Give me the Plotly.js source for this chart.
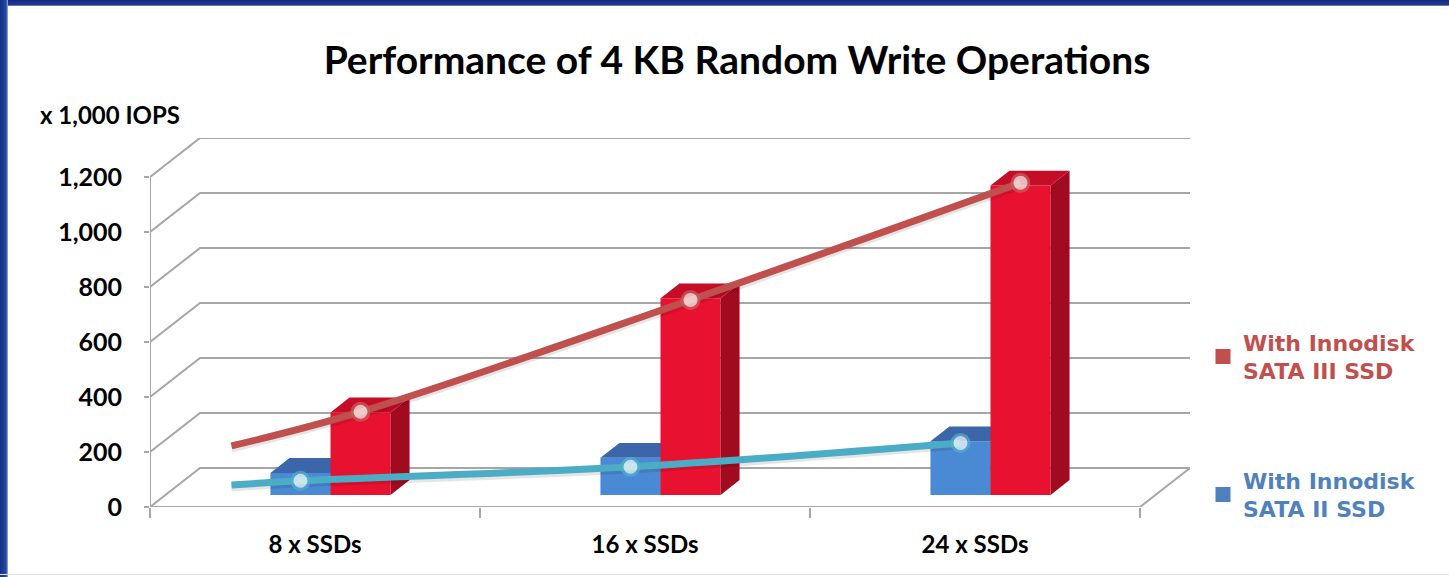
<!DOCTYPE html>
<html>
<head>
<meta charset="utf-8">
<script src="https://cdn.plot.ly/plotly-3.0.1.min.js"></script>
<style>
  html, body { margin: 0; padding: 0; background: #ffffff; }
  #wrap { position: relative; width: 1449px; height: 577px; overflow: hidden; background: #ffffff; }
  #chart { position: absolute; left: 0; top: 0; width: 1449px; height: 577px; }
  .frame-top { position: absolute; left: 0; top: 0; width: 1449px; height: 6px;
    background: linear-gradient(#14287a, #1f3a96 80%, #8fa0c8); pointer-events: none; }
  .frame-left { position: absolute; left: 0; top: 0; width: 8px; height: 577px;
    background: linear-gradient(90deg, #15307f, #2248a8 75%, #9db0d8); pointer-events: none; }
  .frame-bottom { position: absolute; left: 0; top: 574px; width: 1449px; height: 1px; background: #e4e4e4; pointer-events: none; }
</style>
</head>
<body>
<div id="wrap">
  <div id="chart"></div>
  <div class="frame-top"></div>
  <div class="frame-left"></div>
  <div class="frame-bottom"></div>
</div>
<script>
// ---------------- data ----------------
const categories = ['8 x SSDs', '16 x SSDs', '24 x SSDs'];
const sata3Bars = [300, 715, 1125];          // With Innodisk SATA III SSD (x 1,000 IOPS)
const sata2Bars = [80, 135, 195];            // With Innodisk SATA II SSD
const sata3Line = [178, 302, 709, 1135];     // trend curve: lead-in value, then one per category
const sata2Line = [36, 51, 102, 189];
const yTicks = [0, 200, 400, 600, 800, 1000, 1200];
const seriesNames = ['With Innodisk<br>SATA III SSD', 'With Innodisk<br>SATA II SSD'];

// ---------------- 3-D projection (style) ----------------
const DEPTH_X = 50 / 330;   // full wall depth in category units
const DEPTH_Y = 142;        // full wall depth in value units
const BAR_FRONT = 0.31, BAR_BACK = 0.69;
const BAR_W = 0.182;
const LINE_START_X = -0.30;
function P(x, v, d) { return [x + d * DEPTH_X, v + d * DEPTH_Y]; }

const GRID = '#a6a6a6';
const traces = [];

// back wall grid lines + left wall diagonals
(function () {
  const gx = [], gy = [];
  yTicks.forEach(v => {
    const a = P(-0.5, v, 0), b = P(-0.5, v, 1), c = P(categories.length - 0.5, v, 1);
    gx.push(a[0], b[0], c[0], null); gy.push(a[1], b[1], c[1], null);
  });
  const f0 = P(-0.5, 0, 0), f1 = P(categories.length - 0.5, 0, 0), f2 = P(categories.length - 0.5, 0, 1);
  gx.push(f0[0], f1[0], f2[0], null); gy.push(f0[1], f1[1], f2[1], null);
  const a0 = P(-0.5, 0, 0), a1 = P(-0.5, yTicks[yTicks.length - 1], 0);
  gx.push(a0[0], a1[0], null); gy.push(a0[1], a1[1], null);
  traces.push({ x: gx, y: gy, mode: 'lines', line: { color: GRID, width: 2 }, hoverinfo: 'skip', showlegend: false });
})();

function poly(pts, color) {
  traces.push({ x: pts.map(p => p[0]).concat([pts[0][0]]), y: pts.map(p => p[1]).concat([pts[0][1]]),
    mode: 'lines', fill: 'toself', fillcolor: color, line: { width: 0, color: color },
    hoverinfo: 'skip', showlegend: false });
}

function bar(x0, x1, v, cFront, cTop, cSide, withSide) {
  poly([P(x0, 0, BAR_FRONT), P(x1, 0, BAR_FRONT), P(x1, v, BAR_FRONT), P(x0, v, BAR_FRONT)], cFront);
  poly([P(x0, v, BAR_FRONT), P(x1, v, BAR_FRONT), P(x1, v, BAR_BACK), P(x0, v, BAR_BACK)], cTop);
  if (withSide) poly([P(x1, 0, BAR_FRONT), P(x1, v, BAR_FRONT), P(x1, v, BAR_BACK), P(x1, 0, BAR_BACK)], cSide);
}

categories.forEach((c, i) => {
  bar(i - BAR_W, i, sata2Bars[i], '#4a89d4', '#3b66a9', '#2f5590', true);
  bar(i, i + BAR_W, sata3Bars[i], '#e8112f', '#c60d27', '#a00b1f', true);
});

function lineTrace(vals, xOff, color, edge) {
  const xsData = [LINE_START_X].concat(categories.map((c, i) => i + xOff));
  const pts = vals.map((v, k) => P(xsData[k], v, BAR_FRONT));
  const xs = pts.map(p => p[0]), ys = pts.map(p => p[1]);
  traces.push({ x: xs, y: ys.map(v => v - 7), mode: 'lines', line: { shape: 'spline', color: 'rgba(0,0,0,0.10)', width: 9 },
    hoverinfo: 'skip', showlegend: false });
  traces.push({ x: xs, y: ys, mode: 'lines+markers', line: { shape: 'spline', color: color, width: 7 },
    marker: { size: [0, 17, 17, 17], color: '#ffffff', line: { color: edge, width: 3 } },
    hoverinfo: 'skip', showlegend: false });
}
lineTrace(sata3Line, BAR_W / 2, '#c0504d', '#c8605c');
lineTrace(sata2Line, -BAR_W / 2, '#4bacc6', '#52b2ca');

// legend entries
traces.push({ x: [null], y: [null], type: 'scatter', mode: 'markers', name: seriesNames[0],
  marker: { symbol: 'square', size: 15, color: '#c0504d' }, legend: 'legend' });
traces.push({ x: [null], y: [null], type: 'scatter', mode: 'markers', name: seriesNames[1],
  marker: { symbol: 'square', size: 15, color: '#4f81bd' }, legend: 'legend2' });

const legendFont = (col) => ({ family: 'DejaVu Sans', size: 22, color: col, weight: 'bold' });

const layout = {
  width: 1449, height: 577,
  margin: { l: 150, r: 259, t: 138, b: 70, pad: 0 },
  paper_bgcolor: '#ffffff', plot_bgcolor: 'rgba(0,0,0,0)',
  showlegend: true,
  title: { text: 'Performance of 4 KB Random Write Operations', x: 737 / 1449, xanchor: 'center',
    y: 1 - 60 / 577, yanchor: 'middle', font: { family: 'Lato', size: 39, color: '#000000', weight: 'bold' } },
  xaxis: {
    range: [-0.5, categories.length - 0.5 + DEPTH_X], type: 'linear', fixedrange: true,
    tickvals: categories.map((c, i) => i), ticktext: categories, ticks: '', showgrid: false, zeroline: false, showline: false,
    ticklabelstandoff: 21,
    tickfont: { family: 'Lato', size: 24, color: '#000000', weight: 'bold' },
    minor: { tickvals: [-0.5, 0.5, 1.5, 2.5], ticks: 'outside', ticklen: 10, tickwidth: 2, tickcolor: GRID, showgrid: false }
  },
  yaxis: {
    range: [0, 1342], fixedrange: true, tickvals: yTicks, tickformat: ',d',
    ticks: 'outside', ticklen: 5, tickwidth: 2, tickcolor: GRID, showgrid: false, zeroline: false, showline: false,
    ticklabelstandoff: 17,
    tickfont: { family: 'Lato', size: 25, color: '#000000', weight: 'bold' }
  },
  legend: { x: (1203 - 150) / 1040, xanchor: 'left', y: (507 - 357) / 369, yanchor: 'middle',
    bgcolor: 'rgba(0,0,0,0)', font: legendFont('#c0504d') },
  legend2: { x: (1203 - 150) / 1040, xanchor: 'left', y: (507 - 495) / 369, yanchor: 'middle',
    bgcolor: 'rgba(0,0,0,0)', font: legendFont('#4f81bd') },
  annotations: [{ text: 'x 1,000 IOPS', xref: 'paper', yref: 'paper', x: (38 - 150) / 1040, xanchor: 'left',
    y: (507 - 114) / 369, yanchor: 'middle', showarrow: false,
    font: { family: 'Lato', size: 24, color: '#000000', weight: 'bold' } }]
};

Plotly.newPlot('chart', traces, layout, { displayModeBar: false, staticPlot: true });
</script>
</body>
</html>
